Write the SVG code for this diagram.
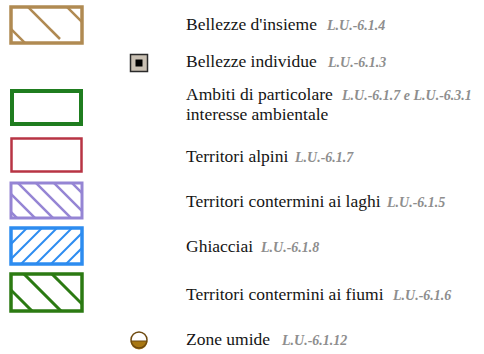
<svg xmlns="http://www.w3.org/2000/svg" width="484" height="354" viewBox="0 0 484 354">
  <style>
    .lbl { font-family: "Liberation Serif", "Times New Roman", serif; font-size: 17.5px; fill: #151515; }
    .ref { font-family: "Liberation Serif", "Times New Roman", serif; font-size: 14px; font-style: italic; font-weight: bold; fill: #8e8e8e; }
    .box { fill: #ffffff; }
  </style>
  <defs>
    <clipPath id="c-brown"><rect x="11" y="7" width="71" height="36"/></clipPath>
    <clipPath id="c-purple"><rect x="11" y="183" width="71" height="35"/></clipPath>
    <clipPath id="c-blue"><rect x="11" y="228" width="71" height="36"/></clipPath>
    <clipPath id="c-dgreen"><rect x="11" y="274" width="71" height="37"/></clipPath>
  </defs>

  <!-- Bellezze d'insieme -->
  <g id="bellezze-insieme">
    <rect class="box" x="11" y="7" width="71" height="36" stroke="#b08a52" stroke-width="3.5"/>
    <g clip-path="url(#c-brown)" stroke="#b08a52" stroke-width="2.5">
      <line x1="-10" y1="8" x2="50" y2="68"/>
      <line x1="-10" y1="-31" x2="60" y2="39"/>
      <line x1="30" y1="-30" x2="100" y2="40"/>
    </g>
    <text class="lbl" x="186" y="30">Bellezze d'insieme</text>
    <text class="ref" x="327" y="30">L.U.-6.1.4</text>
  </g>

  <!-- Bellezze individue -->
  <g id="bellezze-individue">
    <rect x="130.5" y="54.5" width="17" height="17" fill="#c9c0b3" stroke="#2a2a2a" stroke-width="1.5"/>
    <rect x="135.5" y="59.5" width="7" height="7" fill="#000000"/>
    <text class="lbl" x="186" y="67">Bellezze individue</text>
    <text class="ref" x="328" y="67">L.U.-6.1.3</text>
  </g>

  <!-- Ambiti di particolare interesse ambientale -->
  <g id="ambiti">
    <rect class="box" x="12" y="91" width="69" height="33" stroke="#1f7d1f" stroke-width="4"/>
    <text class="lbl" x="186" y="100">Ambiti di particolare</text>
    <text class="lbl" x="186" y="120">interesse ambientale</text>
    <text class="ref" x="342" y="100">L.U.-6.1.7 e L.U.-6.3.1</text>
  </g>

  <!-- Territori alpini -->
  <g id="territori-alpini">
    <rect class="box" x="11.5" y="138.5" width="70" height="33" stroke="#b83444" stroke-width="2.5"/>
    <text class="lbl" x="186" y="162">Territori alpini</text>
    <text class="ref" x="295" y="162">L.U.-6.1.7</text>
  </g>

  <!-- Territori contermini ai laghi -->
  <g id="territori-laghi">
    <rect class="box" x="11" y="183" width="71" height="35" stroke="#9585d4" stroke-width="3"/>
    <g clip-path="url(#c-purple)" stroke="#9585d4" stroke-width="2.5">
      <line x1="0" y1="201" x2="40" y2="241"/>
      <line x1="0" y1="183" x2="50" y2="233"/>
      <line x1="0" y1="165" x2="60" y2="225"/>
      <line x1="0" y1="147" x2="80" y2="227"/>
      <line x1="0" y1="129" x2="90" y2="219"/>
      <line x1="0" y1="111" x2="100" y2="211"/>
    </g>
    <text class="lbl" x="186" y="207">Territori contermini ai laghi</text>
    <text class="ref" x="387" y="207">L.U.-6.1.5</text>
  </g>

  <!-- Ghiacciai -->
  <g id="ghiacciai">
    <rect class="box" x="11" y="228" width="71" height="36" stroke="#2d8cf0" stroke-width="3.5"/>
    <g clip-path="url(#c-blue)" stroke="#2d8cf0" stroke-width="2">
      <line x1="0" y1="255" x2="40" y2="215"/>
      <line x1="0" y1="270" x2="50" y2="220"/>
      <line x1="0" y1="285" x2="60" y2="225"/>
      <line x1="0" y1="300" x2="80" y2="220"/>
      <line x1="0" y1="315" x2="90" y2="225"/>
      <line x1="10" y1="320" x2="100" y2="230"/>
      <line x1="25" y1="320" x2="110" y2="235"/>
      <line x1="40" y1="320" x2="120" y2="240"/>
      <line x1="55" y1="320" x2="130" y2="245"/>
    </g>
    <text class="lbl" x="186" y="252">Ghiacciai</text>
    <text class="ref" x="261" y="252">L.U.-6.1.8</text>
  </g>

  <!-- Territori contermini ai fiumi -->
  <g id="territori-fiumi">
    <rect class="box" x="11" y="274" width="71" height="37" stroke="#2b7a12" stroke-width="3.5"/>
    <g clip-path="url(#c-dgreen)" stroke="#2b7a12" stroke-width="3">
      <line x1="0" y1="279" x2="50" y2="329"/>
      <line x1="0" y1="250" x2="80" y2="330"/>
      <line x1="10" y1="232" x2="100" y2="322"/>
    </g>
    <text class="lbl" x="186" y="300">Territori contermini ai fiumi</text>
    <text class="ref" x="393" y="300">L.U.-6.1.6</text>
  </g>

  <!-- Zone umide -->
  <g id="zone-umide">
    <path d="M130.5,341 A8.5,8.5 0 0 0 147.5,341 Z" fill="#a87712"/>
    <circle cx="139" cy="340" r="8" fill="none" stroke="#6e4a10" stroke-width="1.5"/>
    <path d="M131,341 H147" stroke="#6e4a10" stroke-width="1"/>
    <text class="lbl" x="186" y="345">Zone umide</text>
    <text class="ref" x="282" y="345">L.U.-6.1.12</text>
  </g>
</svg>
